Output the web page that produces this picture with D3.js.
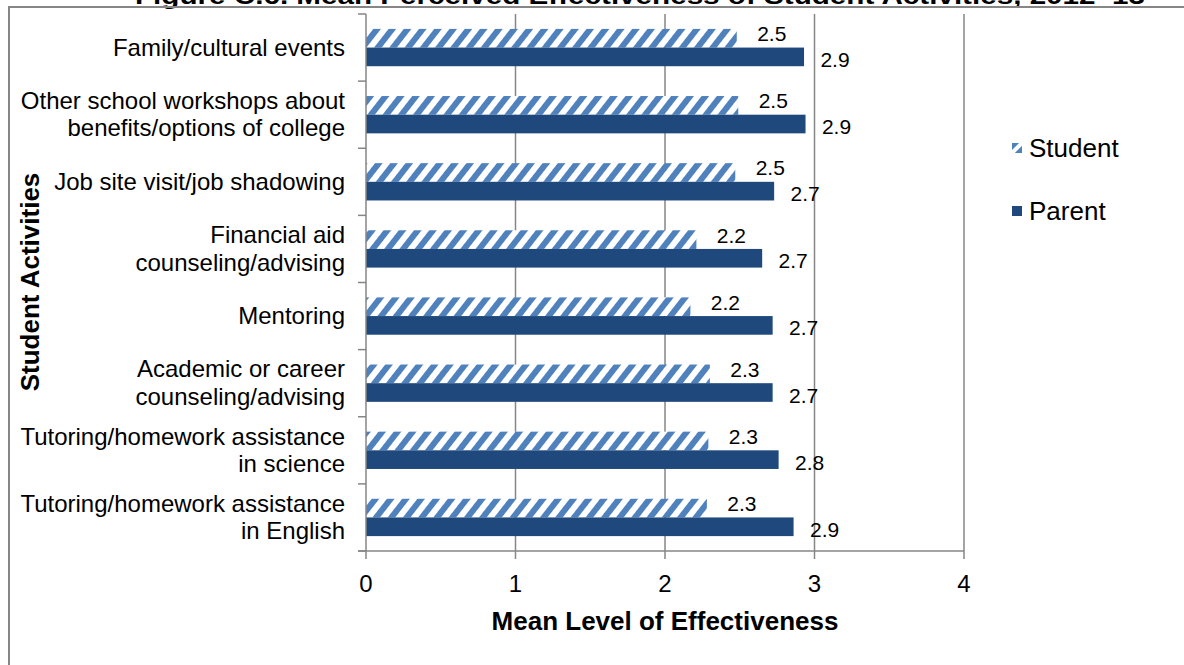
<!DOCTYPE html>
<html><head><meta charset="utf-8">
<script src="https://cdn.jsdelivr.net/npm/d3@7"></script>
<style>
html,body{margin:0;padding:0;background:#fff;}
svg{display:block;font-family:"Liberation Sans",Arial,sans-serif;}
</style></head>
<body>
<svg id="chart" width="1184" height="665"></svg>
<script>
const categories = [
  "Family/cultural events",
  "Other school workshops about|benefits/options of college",
  "Job site visit/job shadowing",
  "Financial aid|counseling/advising",
  "Mentoring",
  "Academic or career|counseling/advising",
  "Tutoring/homework assistance|in science",
  "Tutoring/homework assistance|in English"
];
const seriesNames = ["Student", "Parent"];
const studentValues = [2.48, 2.49, 2.47, 2.21, 2.17, 2.30, 2.29, 2.28];
const parentValues  = [2.93, 2.94, 2.73, 2.65, 2.72, 2.72, 2.76, 2.86];
const studentLabels = ["2.5","2.5","2.5","2.2","2.2","2.3","2.3","2.3"];
const parentLabels  = ["2.9","2.9","2.7","2.7","2.7","2.7","2.8","2.9"];
const xTicks = [0, 1, 2, 3, 4];
const titleText = "Figure C.6. Mean Perceived Effectiveness of Student Activities, 2012–13";

const svg = d3.select("#chart");
const gray = "#868686";
const dark = "#1F497D", light = "#4F81BD";

// pattern
const defs = svg.append("defs");
const pat = defs.append("pattern").attr("id","hatch").attr("patternUnits","userSpaceOnUse")
  .attr("width",12).attr("height",12).attr("patternTransform","rotate(38)");
pat.append("rect").attr("width",12).attr("height",12).attr("fill","#fff");
pat.append("rect").attr("x",0).attr("y",0).attr("width",6).attr("height",12).attr("fill",light);

// title (cut off at top)
svg.append("text").attr("x",640).attr("y",4).attr("text-anchor","middle")
  .attr("font-weight","bold").attr("font-size",24)
  .attr("textLength",1010).attr("lengthAdjust","spacingAndGlyphs")
  .text(titleText);

// border
svg.append("rect").attr("x",9).attr("y",7).attr("width",1200).attr("height",700)
  .attr("fill","none").attr("stroke",gray).attr("stroke-width",2);

const x = d3.scaleLinear().domain([0,4]).range([366,964]);
const y = d3.scaleBand().domain(categories).range([14,551]).padding(0);
const step = y.step();
const y1 = d3.scaleBand().domain(seriesNames).range([step*0.222, step*0.778]).padding(0);

// gridlines
svg.append("g").selectAll("line").data(xTicks.slice(1)).join("line")
  .attr("x1",d=>x(d)).attr("x2",d=>x(d)).attr("y1",14).attr("y2",551)
  .attr("stroke",gray).attr("stroke-width",1.5);

// bars
const rows = categories.map((c,i)=>({c, vals:[studentValues[i], parentValues[i]], labs:[studentLabels[i], parentLabels[i]]}));
const g = svg.append("g");
rows.forEach(r=>{
  seriesNames.forEach((s,j)=>{
    g.append("rect").attr("x",x(0)).attr("y",y(r.c)+y1(s))
      .attr("width",x(r.vals[j])-x(0)).attr("height",y1.bandwidth())
      .attr("fill", j===0 ? "url(#hatch)" : dark);
  });
});

// y axis
svg.append("line").attr("x1",x(0)).attr("x2",x(0)).attr("y1",14).attr("y2",551).attr("stroke",gray).attr("stroke-width",1.5);
const bounds = categories.map(c=>y(c)).concat([551]);
svg.append("g").selectAll("line").data(bounds).join("line")
  .attr("x1",358).attr("x2",x(0)).attr("y1",d=>d).attr("y2",d=>d)
  .attr("stroke",gray).attr("stroke-width",1.5);

// x axis
svg.append("line").attr("x1",358).attr("x2",x(4)).attr("y1",551).attr("y2",551).attr("stroke",gray).attr("stroke-width",1.5);
svg.append("g").selectAll("line").data(xTicks).join("line")
  .attr("x1",d=>x(d)).attr("x2",d=>x(d)).attr("y1",551).attr("y2",559)
  .attr("stroke",gray).attr("stroke-width",1.5);
svg.append("g").selectAll("text").data(xTicks).join("text")
  .attr("x",d=>x(d)).attr("y",592).attr("text-anchor","middle").attr("font-size",24)
  .text(d=>d);

// category labels
rows.forEach(r=>{
  const lines = r.c.split("|");
  const cy = y(r.c)+step/2;
  const lh = 27.5;
  lines.forEach((ln,k)=>{
    svg.append("text").attr("x",345).attr("y",cy + (k-(lines.length-1)/2)*lh + 8)
      .attr("text-anchor","end").attr("font-size",24).text(ln);
  });
});

// data labels
rows.forEach(r=>{
  svg.append("text").attr("x",x(r.vals[0])+35).attr("y",y(r.c)+y1("Student")+y1.bandwidth()/2+3)
    .attr("text-anchor","middle").attr("font-size",21).text(r.labs[0]);
  svg.append("text").attr("x",x(r.vals[1])+31).attr("y",y(r.c)+y1("Parent")+y1.bandwidth()/2+10)
    .attr("text-anchor","middle").attr("font-size",21).text(r.labs[1]);
});

// axis titles
svg.append("text").attr("x",665).attr("y",630).attr("text-anchor","middle")
  .attr("font-weight","bold").attr("font-size",26).text("Mean Level of Effectiveness");
svg.append("text").attr("transform","translate(39,282) rotate(-90)").attr("text-anchor","middle")
  .attr("font-weight","bold").attr("font-size",26).text("Student Activities");

// legend
const lg = svg.append("g");
const lgPat = defs.append("pattern").attr("id","hatchS").attr("patternUnits","userSpaceOnUse")
  .attr("width",12).attr("height",12).attr("patternTransform","translate(1012,143) rotate(-45)");
lgPat.append("rect").attr("width",12).attr("height",12).attr("fill",light);
lgPat.append("rect").attr("x",0).attr("y",5).attr("width",12).attr("height",4).attr("fill","#fff");
seriesNames.forEach((s,j)=>{
  const ly = 148 + j*63;
  lg.append("rect").attr("x",1012).attr("y",ly-5).attr("width",10).attr("height",10)
    .attr("fill", j===0 ? "url(#hatchS)" : dark);
  lg.append("text").attr("x",1029).attr("y",ly+9).attr("font-size",26).text(s);
});
</script>
</body></html>
